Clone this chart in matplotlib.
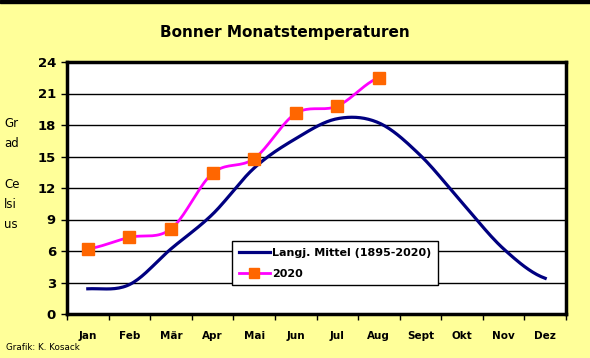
import numpy as np
import matplotlib
matplotlib.use("Agg")
import matplotlib.pyplot as plt

months = ["Jan", "Feb", "Mär", "Apr", "Mai", "Jun", "Jul", "Aug", "Sept", "Okt", "Nov", "Dez"]
mittel = [2.4, 2.8, 6.2, 9.5, 13.9, 16.7, 18.6, 18.2, 15.1, 10.6, 6.2, 3.4]
temp_2020 = [6.2, 7.3, 8.1, 13.4, 14.8, 19.1, 19.8, 22.5]
yticks = [0, 3, 6, 9, 12, 15, 18, 21, 24]


def smooth(y, n=20):
    # Catmull-Rom, like Excel's smoothed lines
    y = np.asarray(y, dtype=float)
    x = np.arange(len(y), dtype=float)
    p = np.concatenate([[y[0]], y, [y[-1]]])
    xs, ys = [], []
    for i in range(len(y) - 1):
        p0, p1, p2, p3 = p[i], p[i + 1], p[i + 2], p[i + 3]
        t = np.linspace(0, 1, n, endpoint=False)
        yy = 0.5 * (2 * p1 + (-p0 + p2) * t + (2 * p0 - 5 * p1 + 4 * p2 - p3) * t ** 2
                    + (-p0 + 3 * p1 - 3 * p2 + p3) * t ** 3)
        xs.append(x[i] + t)
        ys.append(yy)
    xs.append([x[-1]])
    ys.append([y[-1]])
    return np.concatenate(xs), np.concatenate(ys)


bg = "#FFFF99"
fig = plt.figure(figsize=(5.9, 3.58), dpi=100, facecolor=bg)
ax = fig.add_axes([67 / 590, 1 - 314 / 358, 499 / 590, 252 / 358])
ax.set_facecolor("white")

# thin black band at the very top
fig.patches.append(plt.Rectangle((0, 1 - 2.5 / 358), 1, 2.5 / 358, transform=fig.transFigure,
                                 color="black", zorder=0))

for v in yticks[1:-1]:
    ax.axhline(v, color="black", lw=1, zorder=1)

xm, ym = smooth(mittel)
ax.plot(xm, ym, color="#000080", lw=2.3, zorder=3)
x20, y20 = smooth(temp_2020)
ax.plot(x20, y20, color="#FF00FF", lw=2, zorder=3)
ax.plot(range(len(temp_2020)), temp_2020, ls="none", marker="s", ms=8.5,
        color="#FF6600", mec="#FF6600", zorder=4)

# legend handles
h1, = ax.plot([], [], color="#000080", lw=2.3)
h2, = ax.plot([], [], color="#FF00FF", lw=2, marker="s", ms=7, mfc="#FF6600", mec="#FF6600")
leg = fig.legend([h1, h2], ["Langj. Mittel (1895-2020)", "2020"],
                 loc="upper left", bbox_to_anchor=(232 / 590, 1 - 241 / 358),
                 borderaxespad=0, frameon=True, fancybox=False, framealpha=1,
                 edgecolor="black", handlelength=2.8, handletextpad=0.2,
                 borderpad=0.6, labelspacing=1.0,
                 prop={"weight": "bold", "size": 8})
leg.get_frame().set_linewidth(1)

ax.set_xlim(-0.5, 11.5)
ax.set_ylim(0, 24)
ax.set_yticks(yticks)
ax.set_yticklabels([str(v) for v in yticks], fontweight="bold", fontsize=9.5)
ax.tick_params(axis="y", length=4, width=1, pad=4)
ax.set_xticks(range(12))
ax.set_xticklabels(months, fontweight="bold", fontsize=7.5)
ax.set_xticks(np.arange(-0.5, 12, 1), minor=True)
ax.tick_params(axis="x", which="major", length=0, pad=12)
ax.tick_params(axis="x", which="minor", length=4, width=1)
for s in ax.spines.values():
    s.set_linewidth(2.5)
    s.set_color("black")

fig.text(285 / 590, 1 - 32 / 358, "Bonner Monatstemperaturen", ha="center", va="center",
         fontweight="bold", fontsize=11)
fig.text(4 / 590, 1 - 174 / 358, "Gr\nad\n\nCe\nlsi\nus", ha="left", va="center",
         fontsize=8.5, linespacing=1.72)
fig.text(6 / 590, 1 - 348 / 358, "Grafik: K. Kosack", ha="left", va="center", fontsize=6.3)

fig.savefig("out.png", dpi=100, facecolor=bg)
